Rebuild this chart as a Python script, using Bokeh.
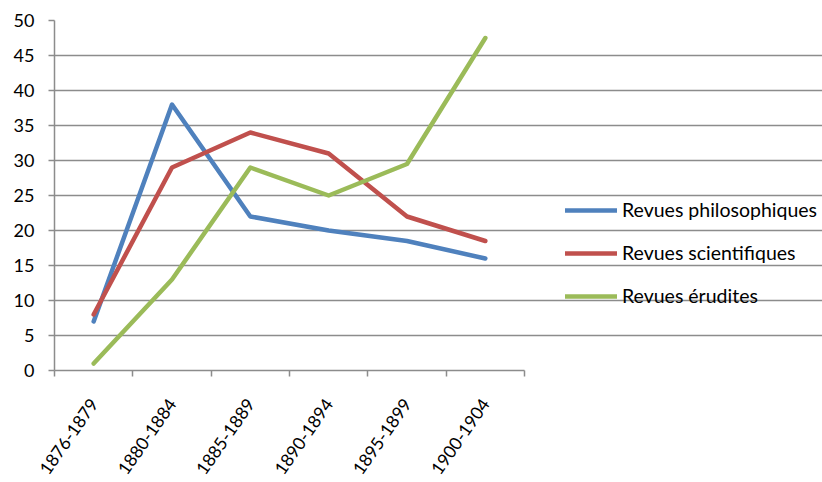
import math
from bokeh.plotting import figure
from bokeh.models import (Range1d, FixedTicker, LinearAxis, Legend, LegendItem,
                          Grid, CustomJSTickFormatter)
from bokeh.embed import file_html
from bokeh.resources import INLINE

categories = ["1876-1879", "1880-1884", "1885-1889", "1890-1894", "1895-1899", "1900-1904"]
philo = [7, 38, 22, 20, 18.5, 16]
scient = [8, 29, 34, 31, 22, 18.5]
erud = [1, 13, 29, 25, 29.5, 47.5]
y_ticks = [0, 5, 10, 15, 20, 25, 30, 35, 40, 45, 50]
series_names = ["Revues philosophiques", "Revues scientifiques", "Revues érudites"]
colors = ["#4F81BD", "#C0504D", "#9BBB59"]

n = len(categories)
xs = [i + 0.5 for i in range(n)]
bounds = list(range(n + 1))

FONT = "Lato"
GRID = "#8c8c8c"

W, H = 822, 482
LEFT, TOP, BOTTOM = 54, 20, 111
PLOT_RIGHT = 524                      # pixel where the category axis ends
frame_w = W - LEFT
x_end = n * frame_w / (PLOT_RIGHT - LEFT)   # extend range so the legend sits inside the frame

p = figure(width=W, height=H, output_backend="svg", toolbar_location=None,
           x_range=Range1d(0, x_end), y_range=Range1d(0, 50),
           x_axis_location=None, y_axis_location=None)
p.grid.visible = False
p.min_border_left = LEFT
p.min_border_right = 0
p.min_border_top = TOP
p.min_border_bottom = BOTTOM
p.outline_line_color = None
p.background_fill_color = "white"
p.border_fill_color = "white"

# y axis
yaxis = LinearAxis(ticker=FixedTicker(ticks=y_ticks))
yaxis.axis_line_color = GRID
yaxis.axis_line_width = 1.5
yaxis.major_tick_line_color = GRID
yaxis.major_tick_line_width = 1.5
yaxis.major_tick_out = 6
yaxis.major_tick_in = 0
yaxis.minor_tick_line_color = None
yaxis.major_label_standoff = 14
yaxis.major_label_text_font = FONT
yaxis.major_label_text_font_size = "18px"
yaxis.major_label_text_color = "black"
p.add_layout(yaxis, "left")
p.add_layout(Grid(dimension=1, ticker=yaxis.ticker, bounds=(0, n),
                  grid_line_color=GRID, grid_line_width=1.5))

# x axis with tick marks at category boundaries
xaxis1 = LinearAxis(ticker=FixedTicker(ticks=bounds), bounds=(0, n))
xaxis1.axis_line_color = GRID
xaxis1.axis_line_width = 1.5
xaxis1.major_tick_line_color = GRID
xaxis1.major_tick_line_width = 1.5
xaxis1.major_tick_out = 6
xaxis1.major_tick_in = 0
xaxis1.minor_tick_line_color = None
xaxis1.major_label_text_color = None
xaxis1.major_label_text_font_size = "1px"
xaxis1.major_label_standoff = 0
p.add_layout(xaxis1, "below")

# x axis with category labels at centres
xaxis2 = LinearAxis(ticker=FixedTicker(ticks=xs),
                    formatter=CustomJSTickFormatter(args=dict(labels=categories),
                                                    code="return labels[Math.floor(tick)];"))
xaxis2.axis_line_color = None
xaxis2.major_tick_line_color = None
xaxis2.major_tick_out = 0
xaxis2.major_tick_in = 0
xaxis2.minor_tick_line_color = None
xaxis2.major_label_orientation = math.radians(55)
xaxis2.major_label_standoff = 24
xaxis2.major_label_text_font = FONT
xaxis2.major_label_text_font_size = "17.5px"
xaxis2.major_label_text_color = "black"
p.add_layout(xaxis2, "below")

items = []
for name, vals, c in zip(series_names, [philo, scient, erud], colors):
    r = p.line(xs, vals, line_color=c, line_width=4.5, line_cap="round", line_join="round")
    items.append(LegendItem(label=name, renderers=[r]))

# location = bottom-left corner of the legend, in pixels from the frame's bottom-left
legend = Legend(items=items, location=(511, 63), glyph_width=52, glyph_height=20,
                label_height=20, spacing=20, padding=0, margin=0,
                border_line_color=None, background_fill_alpha=0,
                label_text_font=FONT, label_text_font_size="19.5px",
                label_text_color="black", label_standoff=5)
p.add_layout(legend)

open("out.html", "w").write(file_html(p, INLINE))
